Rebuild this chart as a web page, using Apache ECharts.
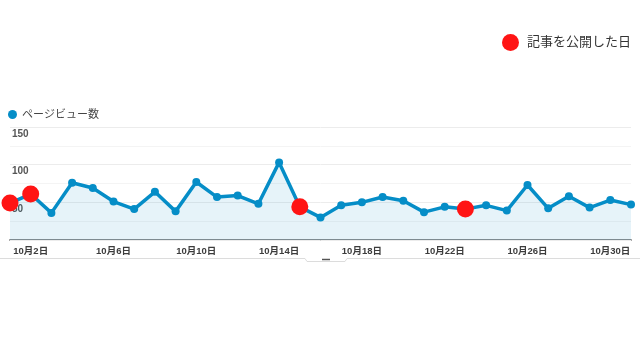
<!DOCTYPE html>
<html>
<head>
<meta charset="utf-8">
<script src="https://cdn.jsdelivr.net/npm/echarts@6/dist/echarts.min.js"></script>
<style>
html,body{margin:0;padding:0;background:#fff;}
#c{width:640px;height:360px;}
</style>
</head>
<body>
<div id="c"></div>
<script>
var days = ['10月1日','10月2日','10月3日','10月4日','10月5日','10月6日','10月7日','10月8日','10月9日','10月10日',
  '10月11日','10月12日','10月13日','10月14日','10月15日','10月16日','10月17日','10月18日','10月19日','10月20日',
  '10月21日','10月22日','10月23日','10月24日','10月25日','10月26日','10月27日','10月28日','10月29日','10月30日','10月31日'];
var pageViews = [49, 61, 36, 76, 69, 51, 41, 64, 38, 77,
  57, 59, 48, 103, 44, 30, 46, 50, 57, 52,
  37, 44, 41, 46, 39, 73, 42, 58, 43, 53, 47];
var publishedDays = ['10月1日','10月2日','10月15日','10月23日'];
var yTicks = [50, 100, 150];

var published = publishedDays.map(function(d){ return [d, pageViews[days.indexOf(d)]]; });

var chart = echarts.init(document.getElementById('c'));
var font = '"Liberation Sans", Arial, "Noto Sans CJK JP", sans-serif';
chart.setOption({
  animation: false,
  textStyle: { fontFamily: font },
  legend: [
    { data: [{ name: 'ページビュー数', icon: 'circle' }], left: 3, top: 104, itemWidth: 9, itemHeight: 9, itemGap: 6,
      textStyle: { fontSize: 11, color: '#444', fontFamily: font } },
    { data: [{ name: '記事を公開した日', icon: 'circle' }], left: 497, top: 29, itemWidth: 17, itemHeight: 17, itemGap: 11,
      textStyle: { fontSize: 13, color: '#333', fontFamily: font, padding: [0, 0, 0, 3] } }
  ],
  grid: { left: 10, right: 9, top: 127, bottom: 120 },
  xAxis: {
    type: 'category', data: days, boundaryGap: false,
    axisLine: { lineStyle: { color: '#8c8c8c', width: 2 } },
    axisTick: { show: false },
    axisLabel: {
      interval: function(i){ return i % 4 === 1; },
      fontSize: 9.5, fontWeight: 'bold', color: '#3c3c3c', margin: 7, fontFamily: font
    }
  },
  yAxis: {
    type: 'value', min: 0, max: 150, interval: 25, z: 3,
    axisLine: { show: false }, axisTick: { show: false },
    splitLine: { lineStyle: { color: ['#ececec', '#f4f4f4'], width: 1 } },
    axisLabel: {
      inside: true, verticalAlign: 'top', margin: 2, padding: [2, 0, 0, 0],
      fontSize: 10, fontWeight: 'bold', color: '#555', fontFamily: font,
      formatter: function(v){ return yTicks.indexOf(v) >= 0 ? String(v) : ''; }
    }
  },
  series: [
    { name: 'ページビュー数', type: 'line', data: pageViews,
      symbol: 'circle', symbolSize: 8, showAllSymbol: true,
      itemStyle: { color: '#058dc7' },
      lineStyle: { color: '#058dc7', width: 3.5 },
      areaStyle: { color: 'rgba(5,141,199,0.1)', opacity: 1 }, z: 4 },
    { name: '記事を公開した日', type: 'scatter', data: published,
      symbol: 'circle', symbolSize: 17,
      itemStyle: { color: '#ff1414', opacity: 1 }, z: 5 }
  ],
  graphic: [
    { type: 'polyline', shape: { points: [[0, 258.5], [305, 258.5], [307, 261.5], [345, 261.5], [347, 258.5], [640, 258.5]] },
      style: { stroke: '#dcdcdc', lineWidth: 1, fill: null } },
    { type: 'line', shape: { x1: 322, y1: 259.5, x2: 330, y2: 259.5 }, style: { stroke: '#555', lineWidth: 1.5 } }
  ]
});
</script>
</body>
</html>
